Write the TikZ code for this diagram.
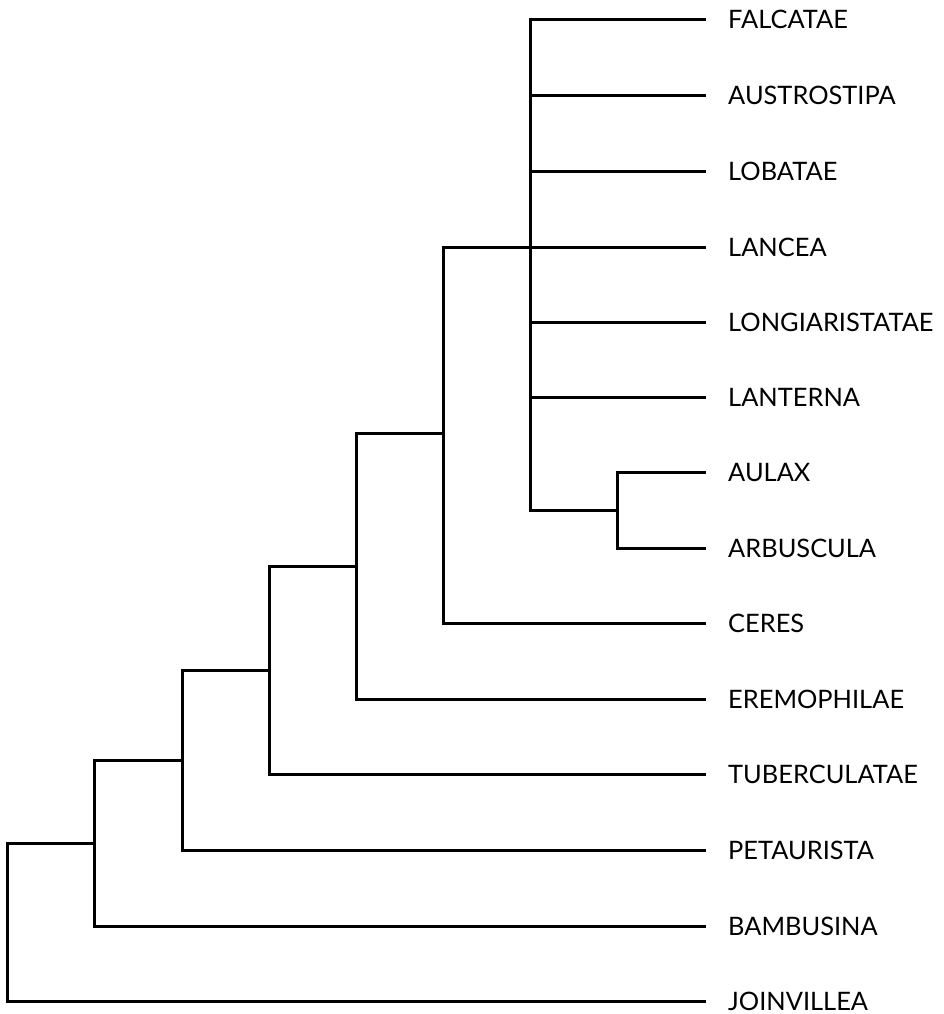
\documentclass[tikz,border=0pt]{standalone}
\usepackage{fontspec}
\setmainfont{Lato}
\tikzset{
  taxon/.style={anchor=west, inner xsep=24bp, inner ysep=0pt, text height=18bp, text depth=0pt, font=\fontsize{25.5}{30}\selectfont},
  branch/.style={line width=3bp, line cap=rect}
}
\begin{document}
\begin{tikzpicture}[x=1bp, y=-1bp, line join=miter]
	\useasboundingbox (0,0) rectangle (944,1014);
	% taxa
	\node[taxon] (falcatae) at (704,19){FALCATAE};
	\node[taxon] (austrostipa) at (704,95){AUSTROSTIPA};
	\node[taxon] (lobatae) at (704,171){LOBATAE};
	\node[taxon] (lancea) at (704,247){LANCEA};
	\node[taxon] (longiaristatae) at (704,322){LONGIARISTATAE};
	\node[taxon] (lanterna) at (704,397){LANTERNA};
	\node[taxon] (aulax) at (704,472){AULAX};
	\node[taxon] (arbuscula) at (704,548){ARBUSCULA};
	\node[taxon] (ceres) at (704,623){CERES};
	\node[taxon] (eremophilae) at (704,699){EREMOPHILAE};
	\node[taxon] (tuberculatae) at (704,774){TUBERCULATAE};
	\node[taxon] (petaurista) at (704,850){PETAURISTA};
	\node[taxon] (bambusina) at (704,926){BAMBUSINA};
	\node[taxon] (joinvillea) at (704,1001){JOINVILLEA};
	% internal nodes
	\coordinate (root) at (7,843);
	\coordinate (c7) at (94,843);
	\coordinate (c6) at (182,760);
	\coordinate (c5) at (269,670);
	\coordinate (c4) at (356,566);
	\coordinate (c3) at (443,433);
	\coordinate (c2) at (530,247);
	\coordinate (c1) at (617,510);
	% branches
	\draw[branch] (c1) |- (aulax.west) (c1) |- (arbuscula.west);
	\foreach \t in {falcatae,austrostipa,lobatae,lancea,longiaristatae,lanterna}
		\draw[branch] (c2) |- (\t.west);
	\draw[branch] (c2) |- (c1);
	\draw[branch] (c3) |- (c2) (c3) |- (ceres.west);
	\draw[branch] (c4) |- (c3) (c4) |- (eremophilae.west);
	\draw[branch] (c5) |- (c4) (c5) |- (tuberculatae.west);
	\draw[branch] (c6) |- (c5) (c6) |- (petaurista.west);
	\draw[branch] (c7) |- (c6) (c7) |- (bambusina.west);
	\draw[branch] (root) |- (c7) (root) |- (joinvillea.west);
\end{tikzpicture}
\end{document}
